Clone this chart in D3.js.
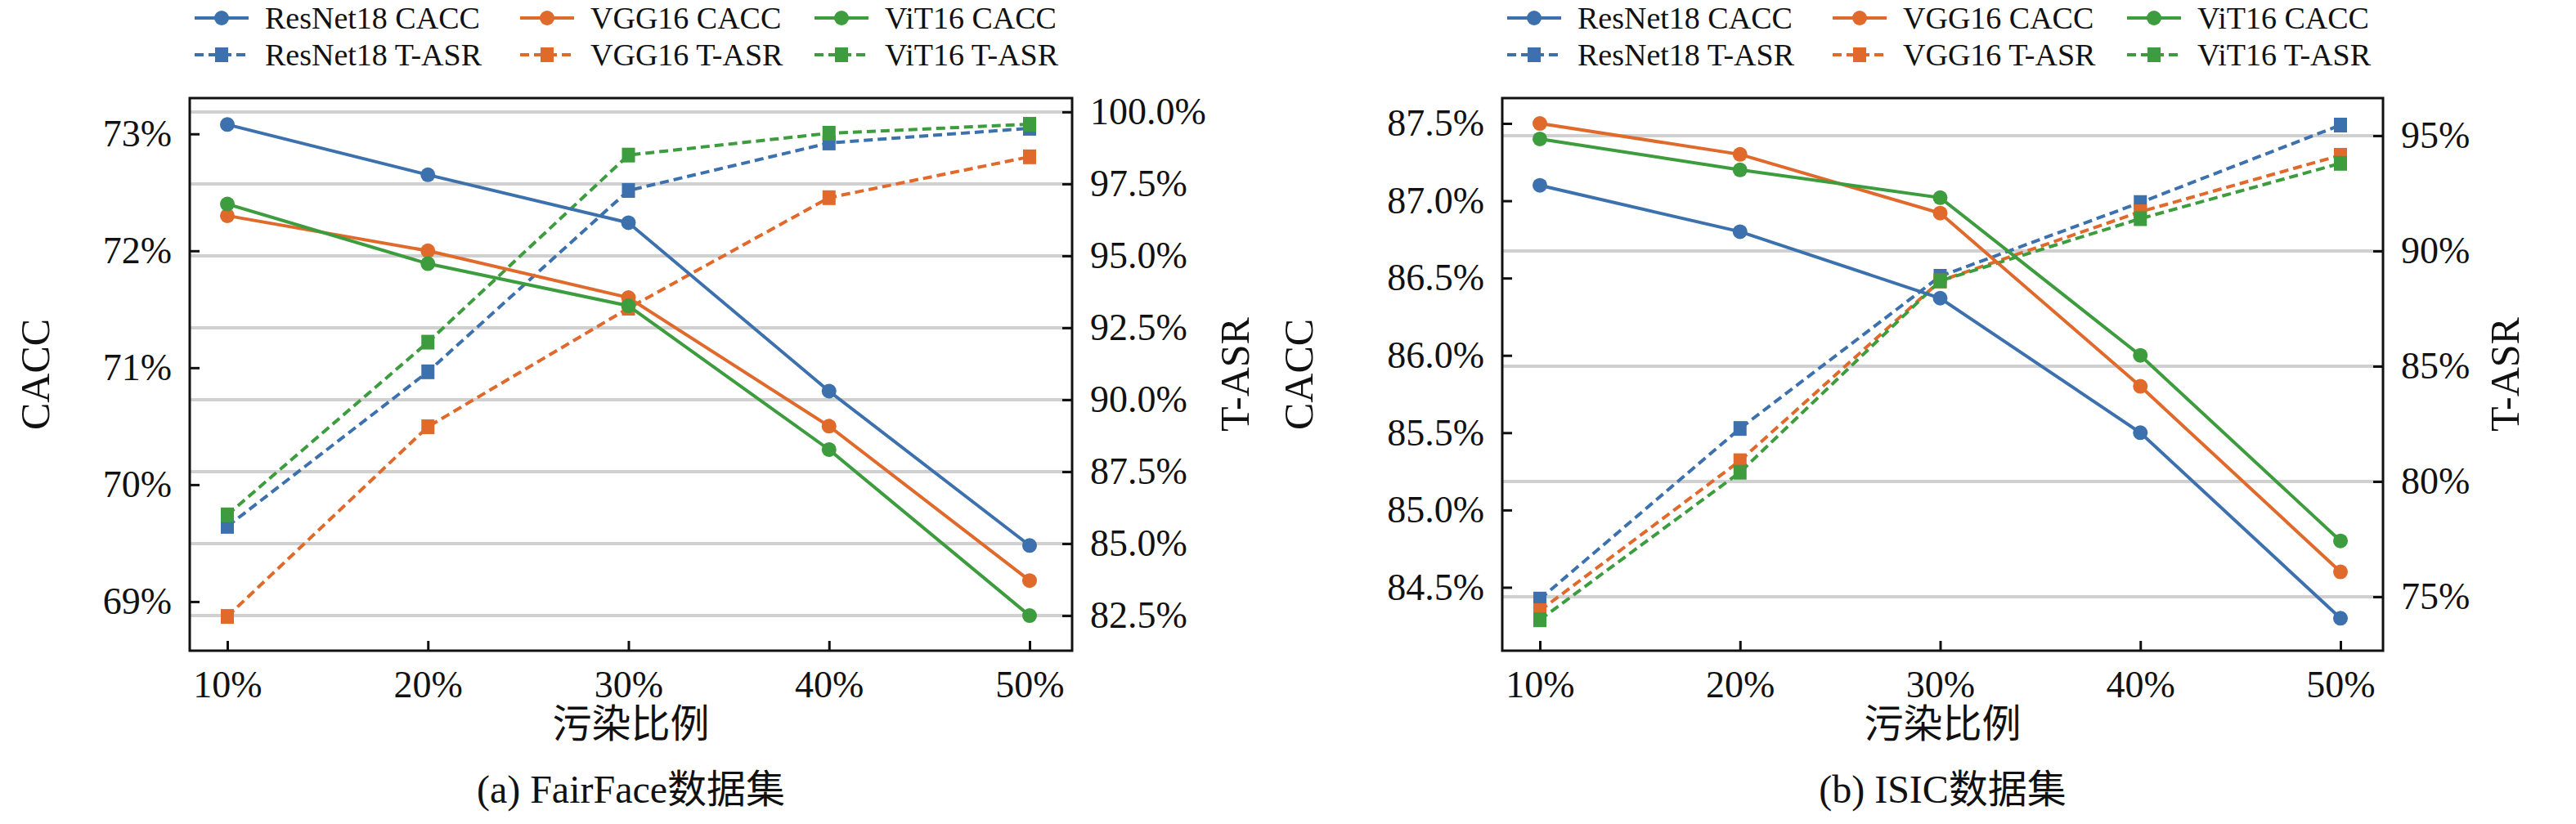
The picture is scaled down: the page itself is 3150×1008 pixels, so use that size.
<!DOCTYPE html>
<html><head><meta charset="utf-8">
<script src="https://cdn.jsdelivr.net/npm/d3@7"></script>
<style>body{margin:0;background:#fff}text{font-family:"Liberation Serif","Noto Sans CJK SC",serif;fill:#111}</style>
</head><body><svg id="c" width="3150" height="1008"></svg>
<script>
var ratios = [10, 20, 30, 40, 50];
var models = ["ResNet18", "VGG16", "ViT16"];
var colors = ["#3d71ad", "#e0692c", "#3d9c3d"];

// (a) FairFace
var faceCacc = [[73.08, 72.65, 72.24, 70.8, 69.48], [72.3, 72.0, 71.6, 70.5, 69.18], [72.4, 71.89, 71.53, 70.3, 68.88]];
var faceAsr = [[85.6, 90.97, 97.27, 98.92, 99.43], [82.47, 89.06, 93.18, 97.02, 98.44], [86.0, 92.0, 98.5, 99.26, 99.57]];
var faceCaccTicks = [69, 70, 71, 72, 73];
var faceAsrTicks = [82.5, 85, 87.5, 90, 92.5, 95, 97.5, 100];

// (b) ISIC
var isicCacc = [[87.1, 86.8, 86.37, 85.5, 84.3], [87.5, 87.3, 86.92, 85.8, 84.6], [87.4, 87.2, 87.02, 86.0, 84.8]];
var isicAsr = [[74.9, 82.3, 88.9, 92.1, 95.46], [74.4, 80.9, 88.7, 91.7, 94.15], [74.0, 80.4, 88.7, 91.4, 93.8]];
var isicCaccTicks = [84.5, 85.0, 85.5, 86.0, 86.5, 87.0, 87.5];
var isicAsrTicks = [75, 80, 85, 90, 95];

var svg = d3.select("#c");
var serif = "Liberation Serif, serif";

function panel(o) {
  var top = 120, bottom = 796;
  var g = svg.append("g");
  var x = d3.scaleLinear().domain([10, 50]).range([o.left + 46, o.right - 52]);
  var yL = d3.scaleLinear().domain(o.caccDom).range([bottom, top]);
  var yR = d3.scaleLinear().domain(o.asrDom).range([bottom, top]);

  // grid on right axis ticks
  g.selectAll(".grid").data(o.asrTicks).enter().append("line")
    .attr("x1", o.left).attr("x2", o.right)
    .attr("y1", function(d){ return yR(d); }).attr("y2", function(d){ return yR(d); })
    .attr("stroke", "#d0d0d0").attr("stroke-width", 4);

  var axL = g.append("g").attr("transform", "translate(" + o.left + ",0)")
    .call(d3.axisLeft(yL).tickValues(o.caccTicks).tickSizeInner(-12).tickSizeOuter(0).tickPadding(22).tickFormat(o.caccFmt));
  var axR = g.append("g").attr("transform", "translate(" + o.right + ",0)")
    .call(d3.axisRight(yR).tickValues(o.asrTicks).tickSizeInner(-12).tickSizeOuter(0).tickPadding(22).tickFormat(o.asrFmt));
  var axB = g.append("g").attr("transform", "translate(0," + bottom + ")")
    .call(d3.axisBottom(x).tickValues(ratios).tickSizeInner(-12).tickSizeOuter(0).tickPadding(24).tickFormat(function(d){ return d + "%"; }));
  [axL, axR, axB].forEach(function(a){
    a.attr("font-family", serif).attr("font-size", 46);
    a.select(".domain").remove();
    a.selectAll("line").attr("stroke", "#111").attr("stroke-width", 3);
    a.selectAll("text").attr("font-family", serif).style("font-family", serif).style("font-size", "46px");
  });

  g.append("rect").attr("x", o.left).attr("y", top).attr("width", o.right - o.left).attr("height", bottom - top)
    .attr("fill", "none").attr("stroke", "#111").attr("stroke-width", 3);

  var line = function(yy){ return d3.line().x(function(d, i){ return x(ratios[i]); }).y(function(d){ return yy(d); }); };

  o.asr.forEach(function(s, k){
    g.append("path").datum(s).attr("d", line(yR)).attr("fill", "none")
      .attr("stroke", colors[k]).attr("stroke-width", 4).attr("stroke-dasharray", "11,6");
    g.selectAll(".sq" + k).data(s).enter().append("rect")
      .attr("x", function(d, i){ return x(ratios[i]) - 8; }).attr("y", function(d){ return yR(d) - 9; })
      .attr("width", 16).attr("height", 18).attr("fill", colors[k]);
  });
  o.cacc.forEach(function(s, k){
    g.append("path").datum(s).attr("d", line(yL)).attr("fill", "none")
      .attr("stroke", colors[k]).attr("stroke-width", 4);
    g.selectAll(".ci" + k).data(s).enter().append("circle")
      .attr("cx", function(d, i){ return x(ratios[i]); }).attr("cy", function(d){ return yL(d); })
      .attr("r", 9).attr("fill", colors[k]);
  });

  g.append("text").attr("transform", "translate(" + (o.left - o.ylOff) + "," + ((top + bottom) / 2) + ") rotate(-90)")
    .attr("text-anchor", "middle").style("font-size", "50px").text("CACC");
  g.append("text").attr("transform", "translate(" + (o.right + o.yrOff) + "," + ((top + bottom) / 2) + ") rotate(-90)")
    .attr("text-anchor", "middle").style("font-size", "50px").text("T-ASR");
  g.append("text").attr("x", (o.left + o.right) / 2).attr("y", 902).attr("text-anchor", "middle")
    .style("font-size", "48px").text("污染比例");
  g.append("text").attr("x", (o.left + o.right) / 2).attr("y", 982).attr("text-anchor", "middle")
    .style("font-size", "48px").text(o.caption);

  // legend
  var cols = [0, 398, 758];
  models.forEach(function(m, k){
    [0, 1].forEach(function(r){
      var lx = o.left + 6 + cols[k], ly = 22 + r * 45;
      var lg = g.append("g");
      lg.append("line").attr("x1", lx).attr("x2", lx + 66).attr("y1", ly).attr("y2", ly)
        .attr("stroke", colors[k]).attr("stroke-width", 4).attr("stroke-dasharray", r ? "11,6" : null);
      if (r) lg.append("rect").attr("x", lx + 25).attr("y", ly - 9).attr("width", 16).attr("height", 18).attr("fill", colors[k]);
      else lg.append("circle").attr("cx", lx + 33).attr("cy", ly).attr("r", 9).attr("fill", colors[k]);
      lg.append("text").attr("x", lx + 86).attr("y", ly + 13).style("font-size", "38px")
        .text(m + (r ? " T-ASR" : " CACC"));
    });
  });
}

panel({left: 232, right: 1311, caccDom: [68.58, 73.306], asrDom: [81.28, 100.48],
  caccTicks: faceCaccTicks, asrTicks: faceAsrTicks, cacc: faceCacc, asr: faceAsr,
  caccFmt: function(d){ return d + "%"; }, asrFmt: function(d){ return d.toFixed(1) + "%"; },
  ylOff: 172, yrOff: 216, caption: "(a) FairFace数据集"});
panel({left: 1837, right: 2914, caccDom: [84.09, 87.664], asrDom: [72.66, 96.63],
  caccTicks: isicCaccTicks, asrTicks: isicAsrTicks, cacc: isicCacc, asr: isicAsr,
  caccFmt: function(d){ return d.toFixed(1) + "%"; }, asrFmt: function(d){ return d + "%"; },
  ylOff: 232, yrOff: 166, caption: "(b) ISIC数据集"});
</script></body></html>
